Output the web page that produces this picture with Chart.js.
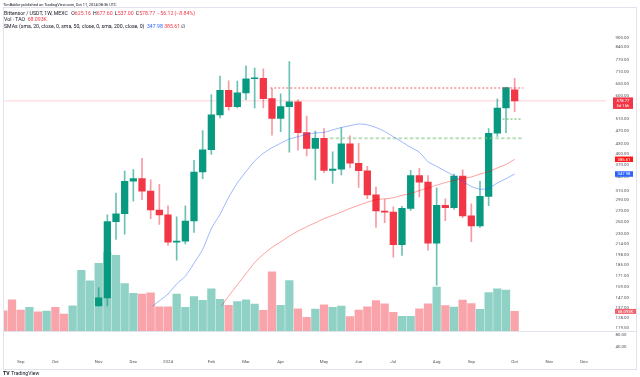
<!DOCTYPE html>
<html>
<head>
<meta charset="utf-8">
<script src="https://cdn.jsdelivr.net/npm/chart.js@4.4.1/dist/chart.umd.min.js"></script>
<style>
  html, body { margin: 0; padding: 0; background: #fff; }
  #wrap { position: relative; width: 640px; height: 377px; overflow: hidden;
          font-family: Roboto, 'Noto Sans', sans-serif; color: #131722; }
  canvas { position: absolute; left: 0; top: 0; }
  .txt { position: absolute; left: 4px; font-size: 5.2px; line-height: 6px; white-space: nowrap; }
  .txt b { font-weight: 400; margin-left: 2.2px; }
  .red { color: #f23645; }
  .blue { color: #2962ff; }
</style>
</head>
<body>
<div id="wrap">
  <canvas id="chart" width="640" height="377"></canvas>
  <div class="txt" style="top:1.5px;left:3px;font-size:3.9px">TimBakke published on TradingView.com, Oct 11, 2024 08:36 UTC</div>
  <div class="txt" style="top:9.5px">Bittensor / USDT, 1W, MEXC <b>O<span class="red">625.16</span></b><b>H<span class="red">677.60</span></b><b>L<span class="red">537.00</span></b><b>C<span class="red">578.77</span></b><b class="red">−56.12 (−8.84%)</b></div>
  <div class="txt" style="top:16px">Vol · TAO&nbsp; <span class="red">68.093K</span></div>
  <div class="txt" style="top:23px">SMAs (sma, 20, close, 0, sma, 50, close, 0, sma, 200, close, 0)&nbsp; <span class="blue">347.98</span>&nbsp;<span class="red">385.61</span>&nbsp;∅</div>
  <div class="txt" style="top:370px;left:3px;font-weight:700">TV <span style="font-weight:400">TradingView</span></div>
</div>
<script>
// weekly candles, week 0 = week of 1 Jan 2024, first one is 21 Aug 2023
const FIRST_WEEK = -19;
const OPEN = [62, 58, 52, 50, 57, 53, 60, 56, 55, 66, 88, 95,
  147, 250, 264, 331, 337, 309, 271,
  262, 216.6, 218, 251, 353, 412, 525, 623, 556, 612,
  675, 677, 588, 512, 556, 575, 464, 416, 446, 357,
  360, 429, 375, 356, 301, 269, 267, 213, 274, 344,
  329, 215, 280, 275.6, 343, 260, 242.5, 298, 462, 551,
  625.16];
const HIGH = [72, 66, 58, 62, 60, 63, 64, 60, 68, 98, 112, 158,
  262, 305, 355, 359, 388, 334, 324,
  279, 258.6, 279, 383, 471, 605, 688, 666, 664, 739,
  727, 723, 630, 608, 761, 584, 521, 469, 477, 406,
  481, 454, 431, 367, 318, 292, 277, 278, 357, 362,
  344, 316, 293, 348, 358, 283, 331, 477, 587, 636,
  677.6];
const LOW = [55, 48, 47, 49, 50, 52, 54, 52, 54, 64, 80, 88,
  123.6, 221, 229, 288, 291, 255, 245,
  211.7, 191, 214, 232, 337, 399, 514, 543, 551, 584,
  551, 551, 456, 467, 405, 411, 395, 334, 351, 326,
  346, 363, 317, 293, 240, 248, 195, 197.6, 270, 297,
  205, 160.7, 251.7, 272, 257, 217.5, 240, 279, 452, 464,
  537];
const CLOSE = [58, 52, 50, 57, 53, 60, 56, 55, 66, 88, 95, 147,
  250, 264, 331, 337, 309, 271, 262,
  216.6, 218, 251, 353, 412, 525, 623, 556, 612, 675,
  677, 588, 512, 556, 575, 464, 416, 446, 357, 360,
  429, 375, 356, 301, 269, 267, 213, 274, 344, 329,
  215, 280, 275.6, 343, 260, 242.5, 298, 462, 551, 634.9,
  578.77];
// volume in thousands of TAO
const VOLUME = [70, 108, 73, 82, 67, 69, 82, 59, 87, 209, 173, 233,
  272, 261, 164, 130, 128, 132, 84,
  84, 128, 82, 119, 106, 146, 110, 89, 102, 108,
  93, 72, 204, 89, 174, 77, 48, 76, 91, 82,
  86, 50, 73, 84, 105, 94, 65, 51, 51, 77,
  94, 152, 88, 83, 107, 95, 75, 133, 146, 141,
  68.093];

const SMA20_START = -5;
const SMA20 = [105, 116, 124, 137, 144, 151, 162, 171, 187, 206, 238,
  263, 296, 327, 354, 381, 402, 418, 431, 444, 451,
  459, 463, 465, 473, 481, 487, 493, 490, 481, 468,
  451, 435, 419, 405, 379, 367, 355, 344, 331, 319,
  313, 315, 327, 337, 347.98];
const SMA50_START = 5;
const SMA50 = [126, 137, 149, 161, 174, 188, 199, 209, 217, 226,
  234, 241, 248, 255, 261, 267, 274, 280, 286, 291,
  293, 295, 300, 304, 310, 316, 322, 328, 333, 337,
  341, 348, 354, 363, 372, 385.61];

// drawn horizontal levels (price, from week, to week)
const LEVEL_PRICE = [633, 446, 510];
const LEVEL_FROM = [11.8, 18.7, 38.6];
const LEVEL_TO = [41, 40.9, 40.8];

const PRICE_TICKS = [900, 840, 770, 710, 650, 600, 550, 510, 470, 430, 400, 370, 340,
  310, 290, 270, 250, 230, 214, 198, 185, 171, 159, 147, 137, 128, 119.5];
const LOWER_TICKS = [80, 40];
const MONTH_TICKS = [-17, -13, -8, -4, 0, 5, 9, 13, 18, 22, 26, 31, 35, 40, 44, 48];
const MONTH_LABELS = ['Sep', 'Oct', 'Nov', 'Dec', '2024', 'Feb', 'Mar', 'Apr', 'May',
  'Jun', 'Jul', 'Aug', 'Sep', 'Oct', 'Nov', 'Dec'];

const X_MIN = -19.04, X_MAX = 50.54;
const Y_MIN = 116.6, Y_MAX = 1073;
const LOWER_H = 25;
const UP = '#089981', DOWN = '#f23645';
const AXIS_TEXT = '#50535e';
const FONT = { family: 'Roboto', size: 4.4 };

const weeks = OPEN.map((_, k) => FIRST_WEEK + k);
const isUp = (k) => CLOSE[k] >= OPEN[k];
const mainClip = { left: 0, top: 0, right: 0, bottom: -LOWER_H };
const lastClose = CLOSE[CLOSE.length - 1];

const levelSet = (k, color, width, dash) => ({
  type: 'line',
  yAxisID: 'y',
  data: [{ x: LEVEL_FROM[k], y: LEVEL_PRICE[k] }, { x: LEVEL_TO[k], y: LEVEL_PRICE[k] }],
  borderColor: color,
  borderWidth: width,
  borderDash: dash,
  pointRadius: 0,
  order: 1,
  clip: mainClip,
});

function tag(ctx, x, yMid, w, h, color, text) {
  ctx.fillStyle = color;
  ctx.fillRect(x, yMid - h / 2, w, h);
  ctx.fillStyle = '#fff';
  ctx.font = '4.2px Roboto';
  ctx.textAlign = 'center';
  ctx.textBaseline = 'middle';
  ctx.fillText(text, x + w / 2, yMid + 0.3);
}

const overlay = {
  id: 'overlay',
  afterDraw(chart) {
    const { ctx } = chart;
    const { y, y2, yv } = chart.scales;
    ctx.save();
    ctx.strokeStyle = '#e0e3eb';
    ctx.lineWidth = 1;
    ctx.beginPath();
    ctx.moveTo(3, Math.round(y2.top) + 0.5);
    ctx.lineTo(636, Math.round(y2.top) + 0.5);
    ctx.stroke();
    ctx.strokeRect(3.5, 7.5, 633, 362);

    const yp = y.getPixelForValue(lastClose);
    ctx.fillStyle = DOWN;
    ctx.fillRect(613, yp - 3.5, 20, 11.5);
    ctx.fillStyle = '#fff';
    ctx.font = '4.2px Roboto';
    ctx.textAlign = 'center';
    ctx.textBaseline = 'middle';
    ctx.fillText(lastClose.toFixed(2), 623, yp + 0.3);
    ctx.fillText('5d 16h', 623, yp + 5.3);

    const sma50Last = SMA50[SMA50.length - 1];
    const sma20Last = SMA20[SMA20.length - 1];
    const vLast = VOLUME[VOLUME.length - 1];
    tag(ctx, 615, y.getPixelForValue(sma50Last), 18, 5.5, '#ff1a1a', sma50Last.toFixed(2));
    tag(ctx, 615, y.getPixelForValue(sma20Last), 18, 5.5, '#2962ff', sma20Last.toFixed(2));
    tag(ctx, 615, yv.getPixelForValue(vLast), 21, 5, '#f0626d', vLast.toFixed(3) + 'K');
    ctx.restore();
  },
};

new Chart(document.getElementById('chart'), {
  type: 'bar',
  data: {
    datasets: [
      {
        label: 'Volume',
        yAxisID: 'yv',
        data: weeks.map((w, k) => ({ x: w, y: VOLUME[k] })),
        backgroundColor: weeks.map((w, k) => (isUp(k) ? 'rgba(8,153,129,0.45)' : 'rgba(242,54,69,0.45)')),
        barThickness: 7.6,
        grouped: false,
        order: 10,
        clip: mainClip,
      },
      {
        label: 'Wicks',
        yAxisID: 'y',
        data: weeks.map((w, k) => ({ x: w, y: [LOW[k], HIGH[k]] })),
        backgroundColor: weeks.map((w, k) => (isUp(k) ? 'rgba(8,153,129,0.6)' : 'rgba(242,54,69,0.5)')),
        barThickness: 1,
        grouped: false,
        order: 3,
        clip: mainClip,
      },
      {
        label: 'Bodies',
        yAxisID: 'y',
        data: weeks.map((w, k) => ({ x: w, y: [OPEN[k], CLOSE[k]] })),
        backgroundColor: weeks.map((w, k) => (isUp(k) ? UP : DOWN)),
        barThickness: 6.6,
        minBarLength: 1,
        grouped: false,
        order: 2,
        clip: mainClip,
      },
      {
        type: 'line',
        label: 'SMA 20',
        yAxisID: 'y',
        data: SMA20.map((v, k) => ({ x: SMA20_START + k, y: v })),
        borderColor: 'rgba(41,98,255,0.45)',
        borderWidth: 1,
        pointRadius: 0,
        tension: 0.2,
        order: 1,
        clip: mainClip,
      },
      {
        type: 'line',
        label: 'SMA 50',
        yAxisID: 'y',
        data: SMA50.map((v, k) => ({ x: SMA50_START + k, y: v })),
        borderColor: 'rgba(255,0,0,0.38)',
        borderWidth: 1,
        pointRadius: 0,
        tension: 0.2,
        order: 1,
        clip: mainClip,
      },
      {
        type: 'line',
        label: 'Last price',
        yAxisID: 'y',
        data: [{ x: X_MIN, y: lastClose }, { x: X_MAX, y: lastClose }],
        borderColor: 'rgba(242,54,69,0.22)',
        borderWidth: 1,
        pointRadius: 0,
        order: 4,
        clip: mainClip,
      },
      levelSet(0, 'rgba(242,54,69,0.8)', 1, [2, 2]),
      levelSet(1, 'rgba(129,199,132,0.55)', 2, [3.5, 2.2]),
      levelSet(2, 'rgba(76,175,80,0.9)', 1, [2, 2]),
    ],
  },
  options: {
    responsive: false,
    animation: false,
    devicePixelRatio: 1,
    layout: { padding: { top: 9, left: 3, right: 0, bottom: 0 } },
    plugins: { legend: { display: false }, tooltip: { enabled: false } },
    scales: {
      x: {
        type: 'linear',
        min: X_MIN,
        max: X_MAX,
        offset: false,
        grid: { display: false, drawTicks: false },
        border: { display: false },
        afterBuildTicks: (s) => { s.ticks = MONTH_TICKS.map((v) => ({ value: v })); },
        afterFit: (s) => { s.height = 21; },
        ticks: {
          autoSkip: false,
          maxRotation: 0,
          padding: 3.3,
          color: AXIS_TEXT,
          font: FONT,
          callback: (v, i) => MONTH_LABELS[i],
        },
      },
      y: {
        type: 'logarithmic',
        position: 'right',
        stack: 'pane',
        stackWeight: 322,
        min: Y_MIN,
        max: Y_MAX,
        bounds: 'data',
        grid: { display: false, drawTicks: false },
        border: { display: false },
        afterBuildTicks: (s) => { s.ticks = PRICE_TICKS.map((v) => ({ value: v })); },
        afterFit: (s) => { s.width = 34; },
        ticks: {
          autoSkip: false,
          padding: 9.5,
          color: AXIS_TEXT,
          font: FONT,
          callback: (v) => Number(v).toFixed(2),
        },
      },
      y2: {
        type: 'linear',
        position: 'right',
        stack: 'pane',
        stackWeight: LOWER_H,
        min: 10,
        max: 93.3,
        grid: { display: false, drawTicks: false },
        border: { display: false },
        afterBuildTicks: (s) => { s.ticks = LOWER_TICKS.map((v) => ({ value: v })); },
        afterFit: (s) => { s.width = 34; },
        ticks: {
          autoSkip: false,
          padding: 9.5,
          color: AXIS_TEXT,
          font: FONT,
          callback: (v) => Number(v).toFixed(2),
        },
      },
      yv: {
        type: 'linear',
        position: 'right',
        display: false,
        min: -85.1,
        max: 1096.3,
      },
    },
  },
  plugins: [overlay],
});
</script>
</body>
</html>
